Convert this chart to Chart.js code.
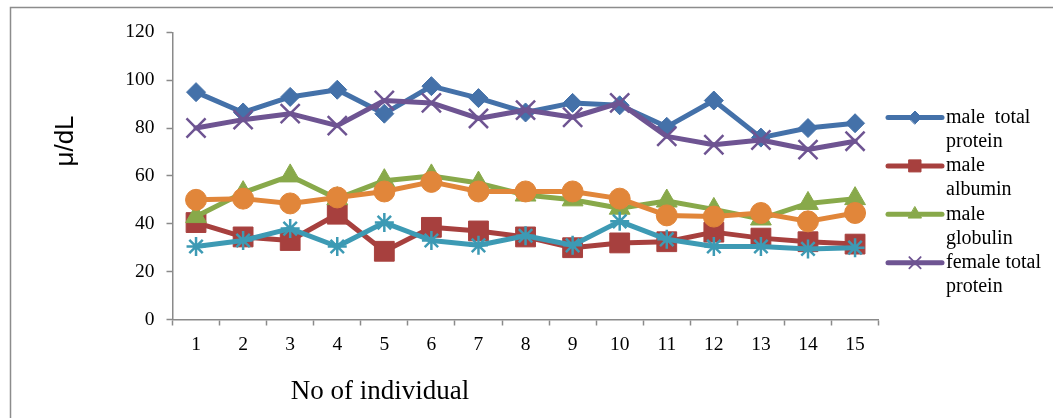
<!DOCTYPE html>
<html>
<head>
<meta charset="utf-8">
<script src="https://cdn.jsdelivr.net/npm/chart.js@4.4.1/dist/chart.umd.min.js"></script>
<style>
  html, body { margin: 0; padding: 0; background: #ffffff; }
  #wrap { position: relative; width: 1053px; height: 418px; }
  canvas { display: block; }
</style>
</head>
<body>
<div id="wrap"><canvas id="chart" width="1053" height="418"></canvas></div>
<script>
// Individuals on the x axis
const individuals = ['1', '2', '3', '4', '5', '6', '7', '8', '9', '10', '11', '12', '13', '14', '15'];

// Serum protein values (µ/dL) per individual
const maleTotalProtein   = [95, 86.5, 93, 96, 86, 97.5, 92.5, 86.5, 90.5, 89.5, 80.5, 91.5, 76, 80, 82];
const maleAlbumin        = [40.5, 34.5, 33, 44, 28.5, 38.5, 37, 34.5, 30, 32, 32.5, 36.5, 34, 32.5, 31.5];
const maleGlobulin       = [43, 53, 60, 50.5, 58, 60, 57, 52, 50, 46.5, 49.5, 46, 42, 48.5, 50.5];
const femaleTotalProtein = [80, 83.5, 86, 81, 91.5, 90.5, 84, 87.5, 84.5, 90.5, 76.5, 73, 75, 71, 74.5];
const femaleAlbumin      = [30.5, 33, 38, 30.5, 40.5, 33, 31, 35, 31, 41, 33.5, 30.5, 30.5, 29.5, 30];
const femaleGlobulin     = [50, 50.5, 48.5, 51, 53.5, 57.5, 53.5, 53.5, 53.5, 50.5, 43.5, 43, 44.5, 41, 44.5];

// Axis ticks and titles
const yTicks = [0, 20, 40, 60, 80, 100, 120];
const yTitle = 'μ/dL';
const xTitle = 'No of individual';

// Legend text, already broken into the lines it is printed on
const legendLines = [
  ['male  total', 'protein'],
  ['male', 'albumin'],
  ['male', 'globulin'],
  ['female total', 'protein']
];

const series = [
  { label: 'male total protein',   data: maleTotalProtein,   color: '#4471A9', style: 'rectRot',  r: 9.5, bw: 1,   lr: 6.5 },
  { label: 'male albumin',         data: maleAlbumin,        color: '#A7403E', style: 'rect',     r: 14,  bw: 1,   lr: 8.5 },
  { label: 'male globulin',        data: maleGlobulin,       color: '#88A94A', style: 'triangle', r: 12,  bw: 1,   lr: 7.5 },
  { label: 'female total protein', data: femaleTotalProtein, color: '#6E5492', style: 'crossRot', r: 13.5,bw: 2.5, lr: 8 },
  { label: 'female albumin',       data: femaleAlbumin,      color: '#3D9AB4', style: 'star',     r: 9.5, bw: 2.5, lr: 7 },
  { label: 'female globulin',      data: femaleGlobulin,     color: '#E1863A', style: 'circle',   r: 10.5,bw: 1,   lr: 7 }
];

const AXIS_GREY = '#8a8a8a';
const SERIF = '"Liberation Serif", "Times New Roman", serif';

// Frame, axis titles and the side legend
const decorations = {
  id: 'decorations',
  beforeDraw(chart) {
    const ctx = chart.ctx;
    ctx.save();
    ctx.fillStyle = '#ffffff';
    ctx.fillRect(0, 0, chart.width, chart.height);
    ctx.strokeStyle = '#8c8c8c';
    ctx.lineWidth = 1.5;
    ctx.strokeRect(10.5, 7.5, 1100, 500);
    ctx.restore();
  },
  afterDraw(chart) {
    const ctx = chart.ctx;
    ctx.save();
    // y axis title
    ctx.fillStyle = '#000000';
    ctx.font = '26px "Liberation Sans", Arial, sans-serif';
    ctx.textAlign = 'center';
    ctx.textBaseline = 'middle';
    ctx.translate(66, 141);
    ctx.rotate(-Math.PI / 2);
    ctx.fillText(yTitle, 0, 0);
    ctx.restore();

    ctx.save();
    // x axis title
    ctx.fillStyle = '#000000';
    ctx.font = '27px ' + SERIF;
    ctx.textAlign = 'center';
    ctx.textBaseline = 'middle';
    ctx.fillText(xTitle, 380, 392);

    // legend (first four series)
    const lineY0 = 117.5, lineStep = 24.2;
    ctx.font = '20px ' + SERIF;
    ctx.textAlign = 'left';
    let row = 0;
    legendLines.forEach((lines, i) => {
      const ds = chart.data.datasets[i];
      const y = lineY0 + row * lineStep;
      ctx.strokeStyle = ds.borderColor;
      ctx.lineWidth = 5;
      ctx.lineCap = 'round';
      ctx.beginPath();
      ctx.moveTo(888, y);
      ctx.lineTo(942, y);
      ctx.stroke();
      ctx.fillStyle = ds.borderColor;
      ctx.strokeStyle = ds.borderColor;
      ctx.lineWidth = series[i].bw > 1 ? 1.8 : 1;
      Chart.helpers.drawPoint(ctx, {
        pointStyle: ds.pointStyle, rotation: 0,
        radius: series[i].lr, borderWidth: ctx.lineWidth
      }, 915, y);
      ctx.fillStyle = '#000000';
      lines.forEach((t) => {
        ctx.fillText(t, 946, lineY0 + row * lineStep);
        row++;
      });
    });
    ctx.restore();
  }
};

new Chart(document.getElementById('chart'), {
  type: 'line',
  data: {
    labels: individuals,
    datasets: series.map((s, i) => ({
      label: s.label,
      data: s.data,
      borderColor: s.color,
      backgroundColor: s.color,
      borderWidth: 5,
      borderJoinStyle: 'round',
      borderCapStyle: 'round',
      tension: 0,
      pointStyle: s.style,
      pointRadius: s.r,
      pointHoverRadius: s.r,
      pointBorderWidth: s.bw,
      pointBackgroundColor: s.color,
      pointBorderColor: s.color,
      order: series.length - i,
      clip: false
    }))
  },
  options: {
    responsive: false,
    animation: false,
    events: [],
    layout: { padding: { left: 0, top: 32.3, right: 174.4, bottom: 0 } },
    plugins: {
      legend: { display: false },
      tooltip: { enabled: false },
      title: { display: false }
    },
    scales: {
      x: {
        type: 'category',
        offset: true,
        grid: {
          offset: true,
          drawOnChartArea: false,
          drawTicks: true,
          tickLength: 6,
          tickWidth: 1.5,
          tickColor: AXIS_GREY
        },
        border: { display: true, color: AXIS_GREY, width: 1.5 },
        ticks: {
          color: '#000000',
          font: { family: SERIF, size: 19.5 },
          padding: 8,
          maxRotation: 0,
          autoSkip: false
        },
        afterFit(scale) { scale.height = 98.5; }
      },
      y: {
        min: 0,
        max: 120,
        afterBuildTicks(scale) { scale.ticks = yTicks.map(v => ({ value: v })); },
        grid: {
          drawOnChartArea: false,
          drawTicks: true,
          tickLength: 6,
          tickWidth: 1.5,
          tickColor: AXIS_GREY
        },
        border: { display: true, color: AXIS_GREY, width: 1.5 },
        ticks: {
          color: '#000000',
          font: { family: SERIF, size: 19.5 },
          padding: 12
        },
        afterFit(scale) { scale.width = 172.5; }
      }
    }
  },
  plugins: [decorations]
});
</script>
</body>
</html>
